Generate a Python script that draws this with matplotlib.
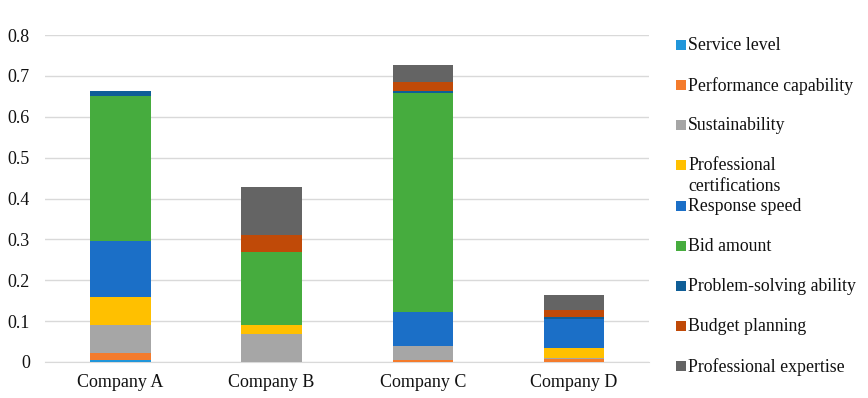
import numpy as np
import matplotlib.pyplot as plt
from matplotlib.patches import Rectangle
from matplotlib.ticker import FuncFormatter

plt.rcParams['font.family'] = ['Liberation Serif', 'DejaVu Serif']

companies = ['Company A', 'Company B', 'Company C', 'Company D']
criteria = ['Service level', 'Performance capability', 'Sustainability',
            'Professional\ncertifications', 'Response speed', 'Bid amount',
            'Problem-solving ability', 'Budget planning', 'Professional expertise']
colors = ['#2196DA', '#F47B2C', '#A6A6A6', '#FFC000', '#1B6FC7',
          '#46AC3E', '#0F5E97', '#C04A08', '#646464']

service_level = [0.005, 0.0, 0.0, 0.0]
performance = [0.018, 0.0, 0.005, 0.008]
sustainability = [0.068, 0.068, 0.035, 0.002]
certifications = [0.068, 0.022, 0.0, 0.023]
response_speed = [0.136, 0.0, 0.082, 0.072]
bid_amount = [0.356, 0.180, 0.536, 0.0]
problem_solving = [0.013, 0.0, 0.005, 0.006]
budget_planning = [0.0, 0.040, 0.022, 0.015]
expertise = [0.0, 0.118, 0.042, 0.037]

series = [service_level, performance, sustainability, certifications,
          response_speed, bid_amount, problem_solving, budget_planning, expertise]

fig = plt.figure(figsize=(8.68, 3.98), dpi=100)
ax = fig.add_axes([0.052, 0.0905, 0.696, 0.8215])

x = np.arange(len(companies))
bottom = np.zeros(len(companies))
for vals, c in zip(series, colors):
    ax.bar(x, vals, 0.4, bottom=bottom, color=c, zorder=3)
    bottom += np.array(vals)

ax.set_xlim(-0.5, 3.5)
ax.set_ylim(0, 0.8)
ax.set_yticks(np.arange(0, 0.81, 0.1))
ax.yaxis.set_major_formatter(FuncFormatter(lambda v, p: '0' if abs(v) < 1e-9 else f'{v:.1f}'))
ax.set_xticks(x)
ax.set_xticklabels(companies)
ax.grid(axis='y', color='#D9D9D9', linewidth=1, zorder=0)
for s in ['top', 'right', 'left']:
    ax.spines[s].set_visible(False)
ax.spines['bottom'].set_color('#D9D9D9')
ax.tick_params(axis='both', length=0, labelsize=13, colors='#111111')
ax.tick_params(axis='x', pad=9)
ax.tick_params(axis='y', pad=11)

# legend drawn by hand, Excel style (first series at top)
W, H = 868, 398
y_px = np.linspace(45, 366, len(criteria))
for name, c, yp in zip(criteria, colors, y_px):
    fig.patches.append(Rectangle((676 / W, 1 - (yp + 5) / H), 10 / W, 10 / H,
                                 transform=fig.transFigure, facecolor=c,
                                 edgecolor='none'))
    fig.text(688 / W, 1 - (yp - 8) / H, name, fontsize=12.8, va='top',
             ha='left', color='#111111', linespacing=1.3)

fig.savefig('out.png', dpi=100)
